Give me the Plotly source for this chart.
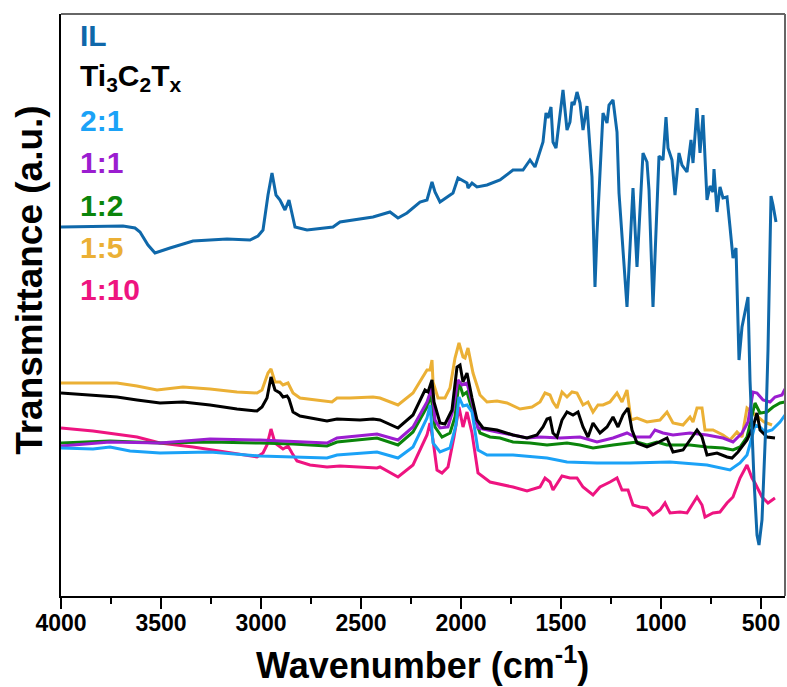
import plotly.graph_objects as go

# ---------------- data ----------------
il_wn = [4000, 3690, 3630, 3605, 3565, 3530, 3455, 3340, 3170, 3055, 3015, 2990, 2965, 2945, 2925, 2905,
         2880, 2860, 2830, 2770, 2640, 2605, 2440, 2355, 2315, 2270, 2205, 2170, 2145, 2130, 2105, 2070,
         2040, 2015, 1970, 1965, 1945, 1920, 1870, 1805, 1770, 1740, 1690, 1655, 1630, 1615, 1590, 1575,
         1565, 1550, 1540, 1525, 1510, 1490, 1470, 1455, 1445, 1435, 1420, 1405, 1390, 1370, 1345, 1330,
         1320, 1290, 1270, 1260, 1240, 1220, 1210, 1190, 1170, 1140, 1120, 1090, 1070, 1060, 1040, 1010,
         990, 975, 965, 945, 930, 910, 895, 870, 850, 840, 820, 805, 790, 770, 755, 740, 735, 720, 705,
         690, 670, 655, 640, 625, 610, 595, 580, 565, 555, 535, 520, 510, 495, 475, 465, 450, 440, 425]
il_t = [369, 370, 368, 364, 351, 343, 348, 355, 357, 356, 360, 366, 401, 423, 401, 396,
        386, 396, 369, 366, 369, 374, 379, 384, 378, 383, 394, 396, 414, 404, 394, 399,
        403, 418, 413, 408, 413, 409, 411, 416, 421, 426, 426, 436, 429, 439, 454, 483,
        478, 489, 454, 448, 473, 506, 466, 474, 494, 491, 504, 493, 466, 490, 419, 309,
        363, 483, 473, 491, 496, 464, 403, 343, 289, 408, 329, 443, 434, 406, 289, 440,
        436, 479, 448, 436, 401, 443, 431, 424, 456, 433, 488, 443, 481, 396, 410, 404, 427, 384, 409,
        398, 399, 369, 338, 348, 236, 269, 284, 299, 216, 116, 61, 51, 76, 176, 246, 400, 391, 374]

ti_wn = [4000, 3720, 3620, 3505, 3390, 3255, 3120, 3020, 2995, 2970, 2950, 2930, 2905, 2890, 2870, 2860,
         2840, 2805, 2670, 2620, 2505, 2440, 2405, 2315, 2240, 2180, 2165, 2145, 2135, 2105, 2080, 2045,
         2020, 2005, 1990, 1970, 1945, 1920, 1890, 1820, 1740, 1670, 1620, 1590, 1570, 1555, 1540, 1520,
         1495, 1470, 1440, 1415, 1390, 1365, 1340, 1305, 1270, 1240, 1215, 1190, 1165, 1145, 1120, 1070,
         1020, 970, 940, 890, 855, 820, 795, 770, 720, 670, 645, 615, 570, 540, 520, 505, 470, 430]
ti_t = [203, 199, 196, 193, 194, 191, 187, 185, 189, 198, 219, 206, 203, 199, 200, 197,
        184, 180, 175, 177, 176, 177, 176, 168, 181, 206, 204, 216, 194, 173, 172, 186,
        229, 231, 214, 223, 198, 176, 168, 166, 161, 158, 161, 169, 177, 178, 163, 159,
        176, 184, 181, 184, 169, 159, 173, 163, 169, 179, 169, 181, 188, 166, 153, 149,
        153, 158, 144, 146, 156, 166, 159, 141, 143, 139, 138, 144, 156, 169, 183, 166, 159, 158]

r21_wn = [4000, 3840, 3755, 3655, 3505, 3255, 3005, 2840, 2670, 2620, 2420, 2315, 2240, 2170, 2155, 2140,
          2105, 2055, 2025, 2010, 1990, 1970, 1945, 1915, 1870, 1740, 1570, 1470, 1320, 1155, 955, 770,
          655, 605, 570, 545, 530, 505, 480, 445, 405, 380]
r21_t = [148, 147, 149, 145, 143, 144, 140, 139, 138, 141, 144, 138, 149, 178, 191, 153,
         144, 148, 171, 199, 190, 191, 184, 146, 141, 141, 138, 134, 133, 133, 134, 131,
         126, 133, 141, 159, 171, 169, 164, 166, 174, 181]

r11_wn = [4000, 3755, 3505, 3255, 3005, 2670, 2620, 2505, 2420, 2315, 2240, 2170, 2145, 2130, 2105, 2065,
          2040, 2015, 1995, 1970, 1945, 1915, 1870, 1820, 1740, 1670, 1605, 1505, 1405, 1320, 1240, 1170,
          1130, 1090, 1055, 1030, 990, 940, 855, 770, 690, 640, 595, 565, 540, 520, 490, 455, 430, 395, 380]
r11_t = [150, 154, 153, 157, 156, 153, 158, 160, 162, 156, 169, 194, 209, 176, 168, 169,
         186, 216, 211, 213, 194, 168, 166, 164, 161, 158, 159, 158, 159, 154, 158, 163,
         159, 159, 159, 166, 163, 161, 163, 161, 158, 154, 163, 174, 204, 203, 196, 194, 199, 201, 207]

r12_wn = [4000, 3755, 3505, 3255, 3005, 2840, 2670, 2620, 2420, 2315, 2240, 2170, 2150, 2130, 2095, 2055,
          2030, 2010, 1990, 1970, 1940, 1905, 1855, 1805, 1740, 1655, 1570, 1470, 1405, 1340, 1240, 1170,
          1120, 1070, 1020, 970, 855, 770, 690, 640, 605, 570, 545, 530, 505, 470, 440, 405, 380]
r12_t = [153, 155, 153, 154, 153, 152, 150, 154, 158, 151, 164, 189, 201, 169, 159, 163,
         179, 214, 201, 204, 183, 163, 159, 158, 154, 153, 151, 153, 151, 148, 151, 153,
         154, 151, 154, 151, 151, 149, 148, 146, 149, 159, 179, 193, 183, 184, 189, 193, 194]

r15_wn = [4000, 3720, 3620, 3520, 3390, 3255, 3120, 3020, 2995, 2965, 2950, 2930, 2905, 2890, 2865, 2840,
          2805, 2670, 2645, 2620, 2555, 2440, 2405, 2315, 2240, 2170, 2155, 2145, 2140, 2115, 2080, 2055,
          2030, 2010, 1990, 1980, 1965, 1940, 1905, 1870, 1820, 1770, 1705, 1645, 1605, 1580, 1555, 1540,
          1520, 1495, 1470, 1445, 1420, 1390, 1365, 1340, 1315, 1290, 1255, 1220, 1195, 1170, 1150, 1120,
          1070, 1005, 970, 940, 890, 855, 840, 820, 795, 780, 740, 690, 655, 620, 595, 570, 545, 515,
          485, 445]
r15_t = [213, 213, 210, 206, 209, 207, 204, 203, 206, 223, 227, 214, 214, 211, 213, 203,
         198, 195, 194, 198, 198, 199, 198, 191, 203, 226, 226, 236, 214, 198, 198, 208,
         238, 253, 239, 238, 248, 223, 201, 194, 195, 193, 187, 189, 194, 203, 201, 194,
         188, 204, 199, 204, 203, 191, 194, 184, 191, 191, 194, 203, 194, 206, 176, 178,
         174, 176, 184, 173, 171, 179, 174, 188, 188, 166, 166, 161, 156, 164, 159, 188, 184, 179,
         174, 171]

r110_wn = [4000, 3840, 3620, 3505, 3340, 3170, 3020, 2990, 2970, 2950, 2930, 2890, 2865, 2845, 2820, 2755,
           2670, 2605, 2505, 2420, 2405, 2315, 2240, 2170, 2155, 2140, 2120, 2095, 2065, 2035, 2010, 1990,
           1970, 1945, 1915, 1855, 1740, 1670, 1605, 1580, 1555, 1540, 1495, 1455, 1420, 1390, 1340, 1305,
           1255, 1220, 1195, 1165, 1140, 1105, 1070, 1040, 1005, 980, 955, 905, 870, 840, 820, 795,
           780, 740, 705, 670, 640, 605, 570, 545, 530, 495, 465, 430]
r110_t = [168, 165, 159, 153, 149, 144, 139, 143, 151, 167, 153, 147, 150, 143, 135, 131,
          129, 130, 129, 128, 129, 119, 131, 161, 173, 156, 126, 123, 129, 159, 189, 169,
          184, 163, 123, 114, 109, 105, 109, 118, 114, 106, 120, 118, 118, 109, 101, 109,
          114, 118, 106, 106, 91, 89, 88, 81, 86, 93, 83, 84, 83, 93, 99, 91,
          79, 83, 84, 93, 99, 118, 131, 118, 113, 99, 93, 98]

series = [
    ("1:10", r110_wn, r110_t, "#ee1480"),
    ("1:5", r15_wn, r15_t, "#ebb035"),
    ("1:2", r12_wn, r12_t, "#0b850b"),
    ("1:1", r11_wn, r11_t, "#9b1dd0"),
    ("2:1", r21_wn, r21_t, "#1ba2f7"),
    ("Ti<sub>3</sub>C<sub>2</sub>T<sub>x</sub>", ti_wn, ti_t, "#000000"),
    ("IL", il_wn, il_t, "#0f68aa"),
]
legend_order = ["IL", "Ti<sub>3</sub>C<sub>2</sub>T<sub>x</sub>", "2:1", "1:1", "1:2", "1:5", "1:10"]
x_ticks = [4000, 3500, 3000, 2500, 2000, 1500, 1000, 500]

fig = go.Figure()
for name, xs, ys, col in series:
    fig.add_trace(go.Scatter(x=xs, y=ys, mode="lines", name=name,
                             line=dict(color=col, width=3), showlegend=False))

colors = {s[0]: s[3] for s in series}
H_PLOT = 582.0
for i, name in enumerate(legend_order):
    ypix = 35.5 + i * 42.4
    fig.add_annotation(x=0.023, xref="paper", xanchor="left",
                       y=1 - (ypix - 14) / H_PLOT, yref="paper", yanchor="middle",
                       text=f"<b>{name}</b>", showarrow=False,
                       font=dict(family="Liberation Sans, Arial", size=30, color=colors[name]))

fig.add_annotation(x=-0.043, xref="paper", y=1 - (280 - 14) / H_PLOT, yref="paper",
                   text="<b>Transmittance (a.u.)</b>", textangle=-90, showarrow=False,
                   xanchor="center", yanchor="middle",
                   font=dict(family="Liberation Sans, Arial", size=37, color="#000"))
fig.add_annotation(x=(422 - 61) / 724, xref="paper", y=-(663 - 596) / H_PLOT, yref="paper",
                   text="<b>Wavenumber (cm<sup>-1</sup>)</b>", showarrow=False,
                   xanchor="center", yanchor="middle",
                   font=dict(family="Liberation Sans, Arial", size=36, color="#000"))

# grey top/right frame
fig.add_shape(type="line", xref="paper", yref="paper", x0=0, x1=1, y0=1, y1=1,
              line=dict(color="#666666", width=2))
fig.add_shape(type="line", xref="paper", yref="paper", x0=1, x1=1, y0=0, y1=1,
              line=dict(color="#666666", width=2))

fig.update_layout(
    width=787, height=687,
    margin=dict(l=61, r=2, t=14, b=91),
    paper_bgcolor="white", plot_bgcolor="white",
    xaxis=dict(range=[4000, 380], tickvals=x_ticks, ticktext=[str(v) for v in x_ticks],
               ticks="outside", ticklen=11, tickwidth=2, tickcolor="#000",
               showline=True, linecolor="#000", linewidth=2, showgrid=False, zeroline=False,
               minor=dict(dtick=250, ticks="outside", ticklen=6, tickwidth=2, tickcolor="#000"),
               ticklabeloverflow="allow", ticklabelstandoff=-6,
               tickfont=dict(family="Liberation Sans, Arial", size=23, color="#000", weight="bold")),
    yaxis=dict(range=[0, 582], showticklabels=False, ticks="", showline=True,
               linecolor="#000", linewidth=2, showgrid=False, zeroline=False),
)

fig.write_html("out.html")
